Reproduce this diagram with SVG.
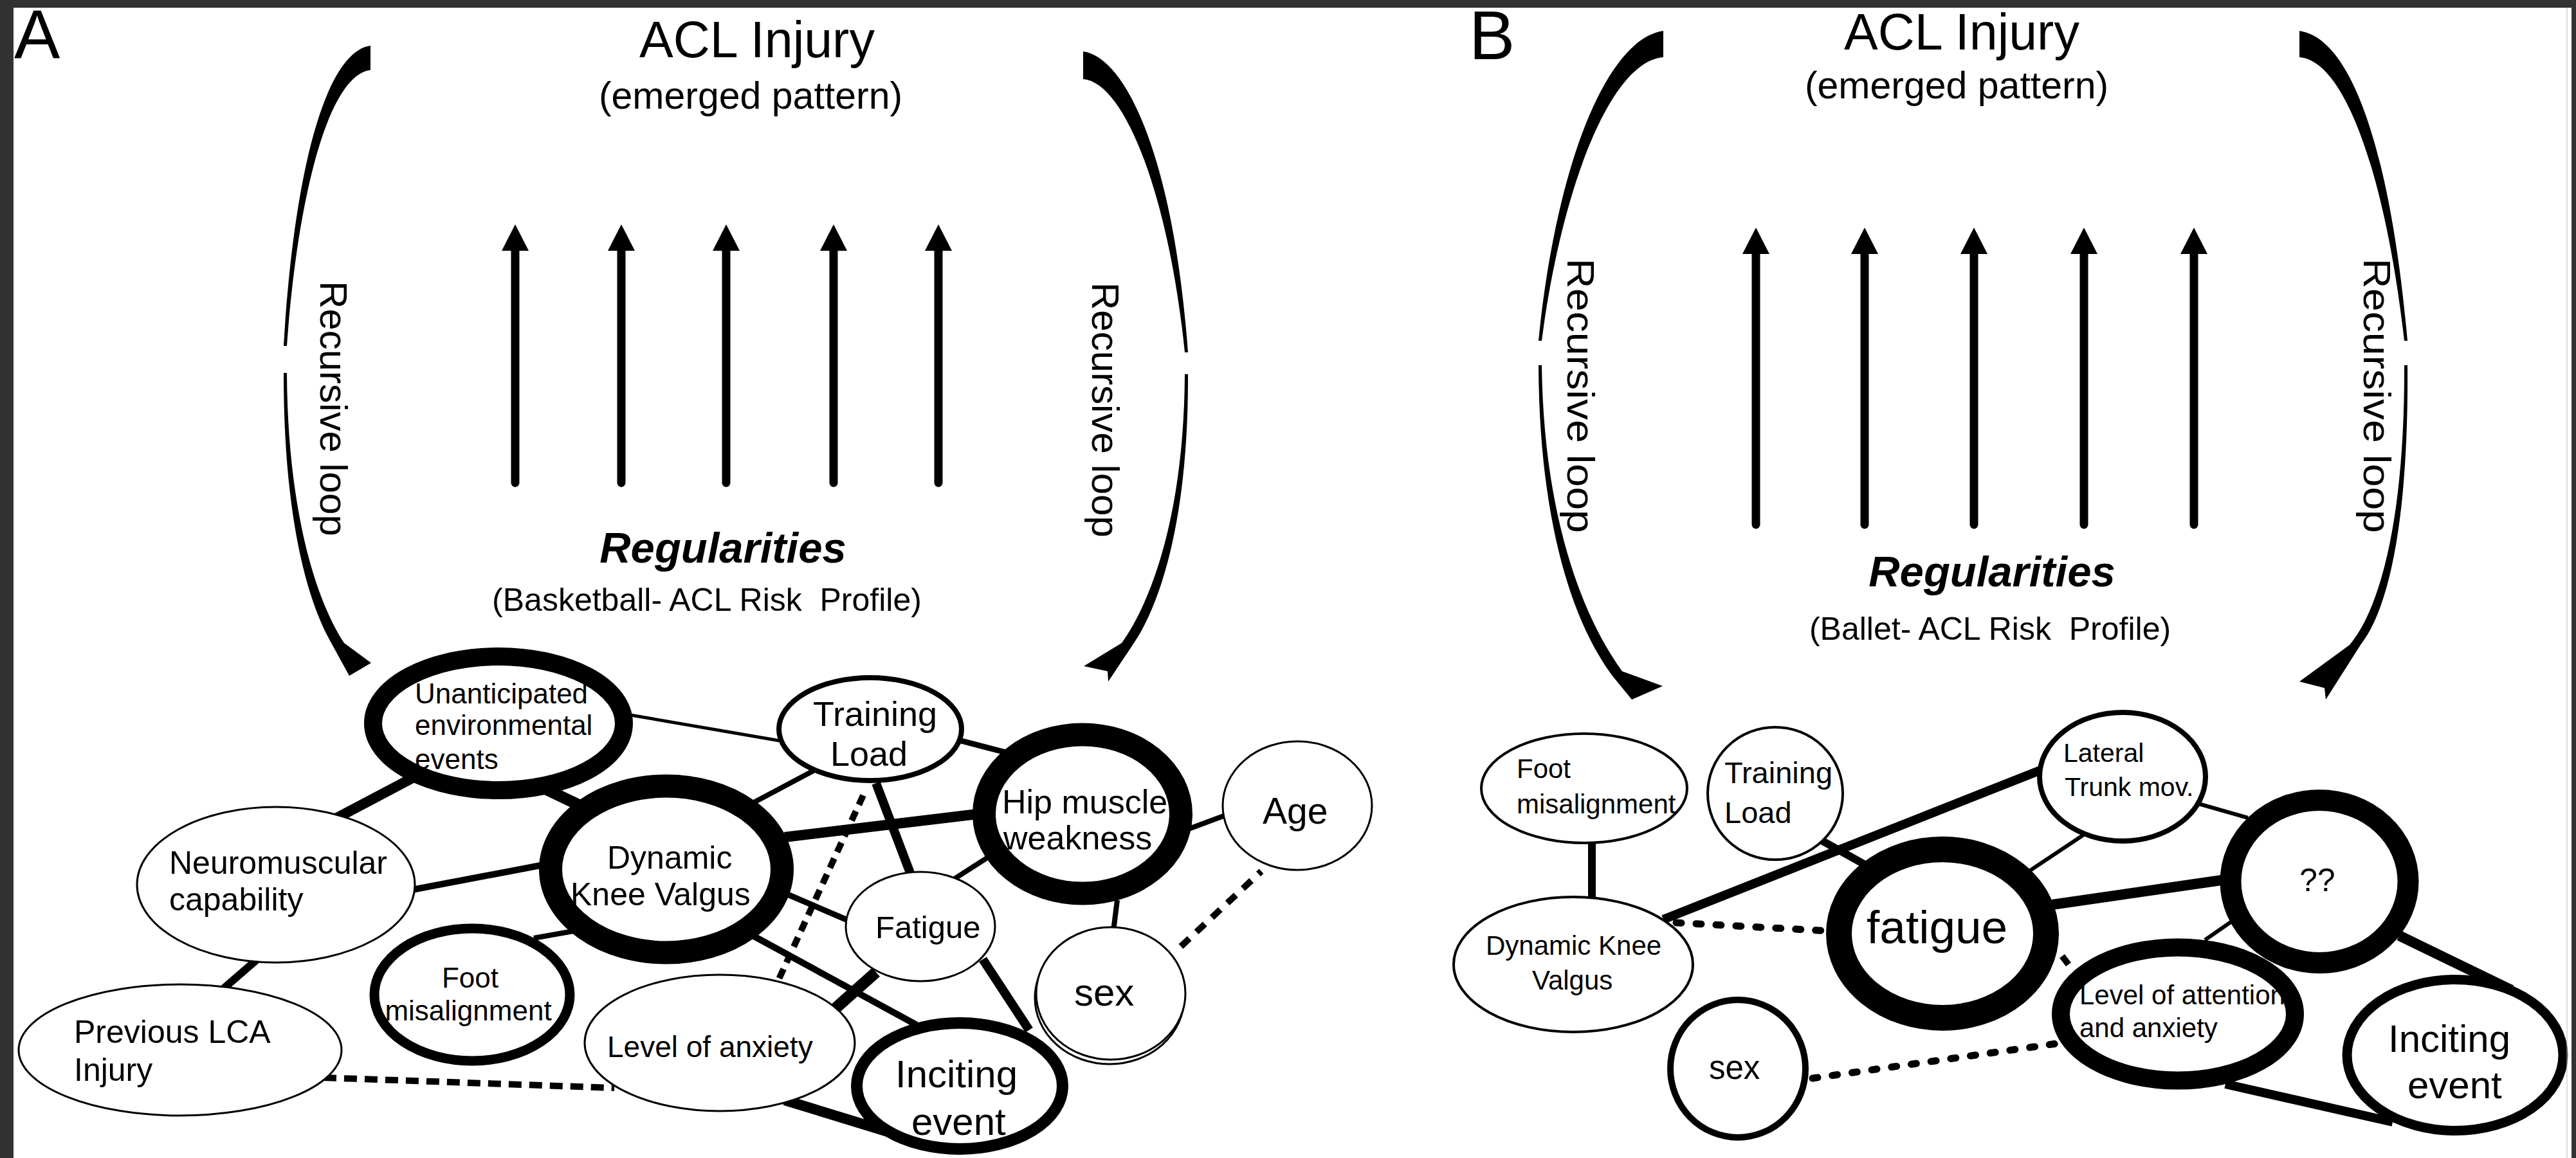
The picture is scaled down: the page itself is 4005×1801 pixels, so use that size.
<svg xmlns="http://www.w3.org/2000/svg" width="4005" height="1801" viewBox="0 0 4005 1801">
<defs>
<style>
text{font-family:"Liberation Sans",Arial,Helvetica,sans-serif;fill:#000;white-space:pre}
.bg{fill:#fff;stroke:none}
.nd{fill:#fff;stroke:#000}
.ln{stroke:#000;fill:none;stroke-linecap:butt}
.dash{stroke-dasharray:16 11}
.dot{stroke-dasharray:8 23;stroke-linecap:round}
.arr{fill:#000;stroke:none}
.va{stroke:#000;stroke-width:13;stroke-linecap:round;marker-end:url(#ah)}
.ttl{font-size:79px;text-anchor:middle}
.sub{font-size:59px;text-anchor:middle}
.reg{font-size:67px;font-weight:bold;font-style:italic;text-anchor:middle}
.prof{font-size:50px;text-anchor:middle}
.rl{font-size:60px}
.pl{font-size:107px}
.frame{fill:#323232}
</style>
<marker id="ah" markerUnits="userSpaceOnUse" markerWidth="41" markerHeight="42" viewBox="0 0 41 42" refX="0" refY="21" orient="auto"><path d="M0,0 L41,21 L0,42 Z" fill="#000"/></marker>
</defs>
<rect x="0" y="0" width="4005" height="1801" fill="#fff"/>

<!-- Panel labels and titles -->
<g id="panelA-labels">
<text class="pl" x="22" y="91">A</text>
<text class="ttl" x="1177" y="89">ACL Injury</text>
<text class="sub" x="1167" y="169">(emerged pattern)</text>
<text class="reg" x="1124" y="875">Regularities</text>
<text class="prof" x="1099" y="950">(Basketball- ACL Risk  Profile)</text>
<text class="rl" transform="translate(498,437) rotate(90)">Recursive loop</text>
<text class="rl" transform="translate(1698,439) rotate(90)">Recursive loop</text>
</g>
<g id="panelB-labels">
<text class="pl" x="2284" y="92">B</text>
<text class="ttl" x="3050" y="77">ACL Injury</text>
<text class="sub" x="3042" y="153">(emerged pattern)</text>
<text class="reg" x="3097" y="912">Regularities</text>
<text class="prof" x="3094" y="995">(Ballet- ACL Risk  Profile)</text>
<text class="rl" transform="translate(2437,402) rotate(90)" textLength="427" lengthAdjust="spacingAndGlyphs">Recursive loop</text>
<text class="rl" transform="translate(3675,402) rotate(90)" textLength="427" lengthAdjust="spacingAndGlyphs">Recursive loop</text>
</g>

<!-- Recursive loop curved arrows -->
<g id="loops">
<path class="arr" d="M576,71 C510,80 458,250 441,538 L446,538 C463,300 512,116 576,109 Z"/>
<path class="arr" d="M441,580 C441,780 470,920 515,1000 L543,1051 L577,1031 L535,1000 C486,925 447,780 446,580 Z"/>
<path class="arr" d="M1684,80 C1755,90 1826,260 1847,548 L1842,548 C1818,310 1750,128 1684,123 Z"/>
<path class="arr" d="M1847,582 C1848,790 1810,930 1763,1000 L1723,1060 L1722,1044 L1685,1036 L1744,1000 C1794,930 1841,790 1842,582 Z"/>
<path class="arr" d="M2586,48 C2500,60 2420,250 2392,530 L2397,530 C2428,290 2505,95 2586,89 Z"/>
<path class="arr" d="M2392,568 C2393,800 2440,960 2506,1050 L2537,1088 L2585,1067 L2522,1044 C2458,955 2400,800 2397,568 Z"/>
<path class="arr" d="M3575,48 C3660,60 3718,250 3743,530 L3738,530 C3711,290 3650,95 3575,89 Z"/>
<path class="arr" d="M3743,568 C3745,800 3716,945 3670,1003 L3616,1088 L3614,1070 L3575,1060 L3653,1003 C3702,945 3739,800 3738,568 Z"/>
</g>

<!-- Emergence arrows -->
<g id="emergence">
<line class="va" x1="801" y1="751" x2="801" y2="390"/>
<line class="va" x1="966" y1="751" x2="966" y2="390"/>
<line class="va" x1="1129" y1="751" x2="1129" y2="390"/>
<line class="va" x1="1296" y1="751" x2="1296" y2="390"/>
<line class="va" x1="1459" y1="751" x2="1459" y2="390"/>
<line class="va" x1="2730" y1="816" x2="2730" y2="395"/>
<line class="va" x1="2899" y1="816" x2="2899" y2="395"/>
<line class="va" x1="3069" y1="816" x2="3069" y2="395"/>
<line class="va" x1="3240" y1="816" x2="3240" y2="395"/>
<line class="va" x1="3411" y1="816" x2="3411" y2="395"/>
</g>

<!-- Connectors -->
<g id="connectors">
<line class="ln" x1="520" y1="1274" x2="645" y2="1208" stroke-width="16"/>
<line class="ln" x1="640" y1="1384" x2="845" y2="1345" stroke-width="10"/>
<line class="ln" x1="348" y1="1537" x2="400" y2="1492" stroke-width="12"/>
<line class="ln" x1="850" y1="1228" x2="900" y2="1252" stroke-width="18"/>
<line class="ln" x1="980" y1="1112" x2="1212" y2="1152" stroke-width="5"/>
<line class="ln" x1="1172" y1="1248" x2="1266" y2="1198" stroke-width="8"/>
<line class="ln" x1="1220" y1="1302" x2="1520" y2="1266" stroke-width="16"/>
<line class="ln" x1="1222" y1="1390" x2="1320" y2="1432" stroke-width="9"/>
<line class="ln" x1="1172" y1="1456" x2="1425" y2="1594" stroke-width="10"/>
<line class="ln" x1="830" y1="1459" x2="892" y2="1448" stroke-width="8"/>
<line class="ln" x1="1494" y1="1152" x2="1563" y2="1170" stroke-width="9"/>
<line class="ln" x1="1362" y1="1218" x2="1416" y2="1360" stroke-width="14"/>
<line class="ln" x1="1482" y1="1368" x2="1535" y2="1334" stroke-width="8"/>
<line class="ln" x1="1846" y1="1290" x2="1905" y2="1268" stroke-width="8"/>
<line class="ln" x1="1737" y1="1400" x2="1731" y2="1448" stroke-width="8"/>
<line class="ln" x1="1362" y1="1512" x2="1298" y2="1569" stroke-width="18"/>
<line class="ln" x1="1528" y1="1492" x2="1600" y2="1602" stroke-width="14"/>
<line class="ln" x1="1220" y1="1711" x2="1380" y2="1760" stroke-width="16"/>
<line class="ln dash" x1="1342" y1="1237" x2="1209" y2="1527" stroke-width="10"/>
<line class="ln" x1="503" y1="1676" x2="955" y2="1692" stroke-width="10" stroke-dasharray="20 12"/>
<line class="ln" x1="1836" y1="1472" x2="1961" y2="1355" stroke-width="10" stroke-dasharray="18 15"/>

<line class="ln" x1="2475" y1="1305" x2="2475" y2="1400" stroke-width="12"/>
<line class="ln" x1="2586" y1="1430" x2="3172" y2="1198" stroke-width="14"/>
<line class="ln" x1="2830" y1="1306" x2="2900" y2="1345" stroke-width="12"/>
<line class="ln dot" x1="2606" y1="1435" x2="2845" y2="1448" stroke-width="11"/>
<line class="ln" x1="3240" y1="1298" x2="3150" y2="1358" stroke-width="6"/>
<line class="ln" x1="3418" y1="1250" x2="3495" y2="1272" stroke-width="6"/>
<line class="ln" x1="3170" y1="1410" x2="3460" y2="1368" stroke-width="16"/>
<line class="ln" x1="3428" y1="1462" x2="3474" y2="1430" stroke-width="6"/>
<line class="ln" x1="3730" y1="1455" x2="3905" y2="1540" stroke-width="16"/>
<line class="ln" x1="3460" y1="1686" x2="3720" y2="1745" stroke-width="14"/>
<line class="ln dot" x1="2818" y1="1677" x2="3205" y2="1622" stroke-width="11"/>
<line class="ln" x1="3206" y1="1487" x2="3216" y2="1500" stroke-width="10" stroke-linecap="round"/>
</g>

<!-- Panel A nodes -->
<g id="a-unanticipated">
<ellipse class="nd" cx="775" cy="1125" rx="195" ry="104" stroke-width="28"/>
<text x="645" y="1094" font-size="44">Unanticipated</text>
<text x="645" y="1143" font-size="44">environmental</text>
<text x="645" y="1196" font-size="44">events</text>
</g>
<g id="a-neuromuscular">
<ellipse class="nd" cx="429" cy="1376" rx="216" ry="121" stroke-width="3"/>
<text x="263" y="1359" font-size="50">Neuromuscular</text>
<text x="263" y="1416" font-size="50">capability</text>
</g>
<g id="a-previous">
<ellipse class="nd" cx="280" cy="1633" rx="251" ry="102" stroke-width="3"/>
<text x="115" y="1622" font-size="50">Previous LCA</text>
<text x="115" y="1681" font-size="50">Injury</text>
</g>
<g id="a-foot">
<ellipse class="nd" cx="734" cy="1547" rx="152" ry="103" stroke-width="15"/>
<text x="731" y="1536" font-size="44" text-anchor="middle">Foot</text>
<text x="728" y="1587" font-size="44" text-anchor="middle">misalignment</text>
</g>
<g id="a-dkv">
<ellipse class="nd" cx="1036" cy="1352" rx="180" ry="129.5" stroke-width="36"/>
<text x="944" y="1351" font-size="50">Dynamic</text>
<text x="887" y="1408" font-size="50">Knee Valgus</text>
</g>
<g id="a-training">
<ellipse class="nd" cx="1353" cy="1134" rx="142" ry="80" stroke-width="8"/>
<text x="1264" y="1129" font-size="54">Training</text>
<text x="1291" y="1191" font-size="54">Load</text>
</g>
<g id="a-hip">
<ellipse class="nd" cx="1683" cy="1266" rx="153" ry="123.5" stroke-width="36"/>
<text x="1558" y="1265" font-size="52">Hip muscle</text>
<text x="1560" y="1321" font-size="52">weakness</text>
</g>
<g id="a-age">
<ellipse class="nd" cx="2017" cy="1253" rx="116" ry="100" stroke-width="3"/>
<text x="1963" y="1281" font-size="57">Age</text>
</g>
<g id="a-fatigue">
<ellipse class="nd" cx="1431" cy="1441" rx="116" ry="85" stroke-width="3"/>
<text x="1361" y="1459" font-size="49">Fatigue</text>
</g>
<g id="a-sex">
<ellipse class="nd" cx="1725" cy="1552" rx="116" ry="103" stroke-width="3"/>
<ellipse class="nd" cx="1727" cy="1545" rx="116" ry="103" stroke-width="3"/>
<text x="1670" y="1564" font-size="60">sex</text>
</g>
<g id="a-level">
<ellipse class="nd" cx="1119" cy="1622" rx="210" ry="106" stroke-width="3"/>
<text x="944" y="1644" font-size="46">Level of anxiety</text>
</g>
<g id="a-inciting">
<ellipse class="nd" cx="1492" cy="1689" rx="160" ry="98" stroke-width="18"/>
<text x="1392" y="1691" font-size="60">Inciting</text>
<text x="1417" y="1765" font-size="60">event</text>
</g>

<!-- Panel B nodes -->
<g id="b-foot">
<ellipse class="nd" cx="2463" cy="1226" rx="160" ry="85" stroke-width="4"/>
<text x="2358" y="1210" font-size="42">Foot</text>
<text x="2358" y="1265" font-size="42">misalignment</text>
</g>
<g id="b-training">
<ellipse class="nd" cx="2760" cy="1234" rx="105" ry="103" stroke-width="4"/>
<text x="2681" y="1218" font-size="47">Training</text>
<text x="2681" y="1280" font-size="47">Load</text>
</g>
<g id="b-dkv">
<ellipse class="nd" cx="2446" cy="1500" rx="186" ry="105" stroke-width="4"/>
<text x="2310" y="1485" font-size="42">Dynamic Knee</text>
<text x="2382" y="1539" font-size="42">Valgus</text>
</g>
<g id="b-sex">
<ellipse class="nd" cx="2702" cy="1662" rx="105" ry="107" stroke-width="10"/>
<text x="2657" y="1678" font-size="51">sex</text>
</g>
<g id="b-fatigue">
<ellipse class="nd" cx="3020" cy="1452" rx="161" ry="131" stroke-width="40"/>
<text x="2902" y="1467" font-size="73">fatigue</text>
</g>
<g id="b-lateral">
<ellipse class="nd" cx="3300" cy="1208" rx="129" ry="100" stroke-width="8"/>
<text x="3208" y="1185" font-size="41">Lateral</text>
<text x="3210" y="1238" font-size="41">Trunk mov.</text>
</g>
<g id="b-unknown">
<ellipse class="nd" cx="3606" cy="1371" rx="138" ry="126.5" stroke-width="33"/>
<text x="3575" y="1386" font-size="50">??</text>
</g>
<g id="b-level">
<ellipse class="bg" cx="3386" cy="1577" rx="182" ry="103.5"/>
<text x="3233" y="1562" font-size="42">Level of attention</text>
<text x="3233" y="1613" font-size="42">and anxiety</text>
<ellipse cx="3386" cy="1577" rx="182" ry="103.5" fill="none" stroke="#000" stroke-width="28"/>
</g>
<g id="b-inciting">
<ellipse class="nd" cx="3817" cy="1641" rx="168" ry="117.5" stroke-width="15"/>
<text x="3713" y="1636" font-size="60">Inciting</text>
<text x="3743" y="1708" font-size="60">event</text>
</g>

<!-- frame -->
<g id="frame">
<rect class="frame" x="0" y="0" width="4005" height="12"/>
<rect class="frame" x="0" y="0" width="21" height="1801"/>
<rect class="frame" x="3998" y="0" width="7" height="1801"/>
<line x1="3991" y1="12" x2="3991" y2="1801" stroke="#bbb" stroke-width="1"/>
</g>
</svg>
